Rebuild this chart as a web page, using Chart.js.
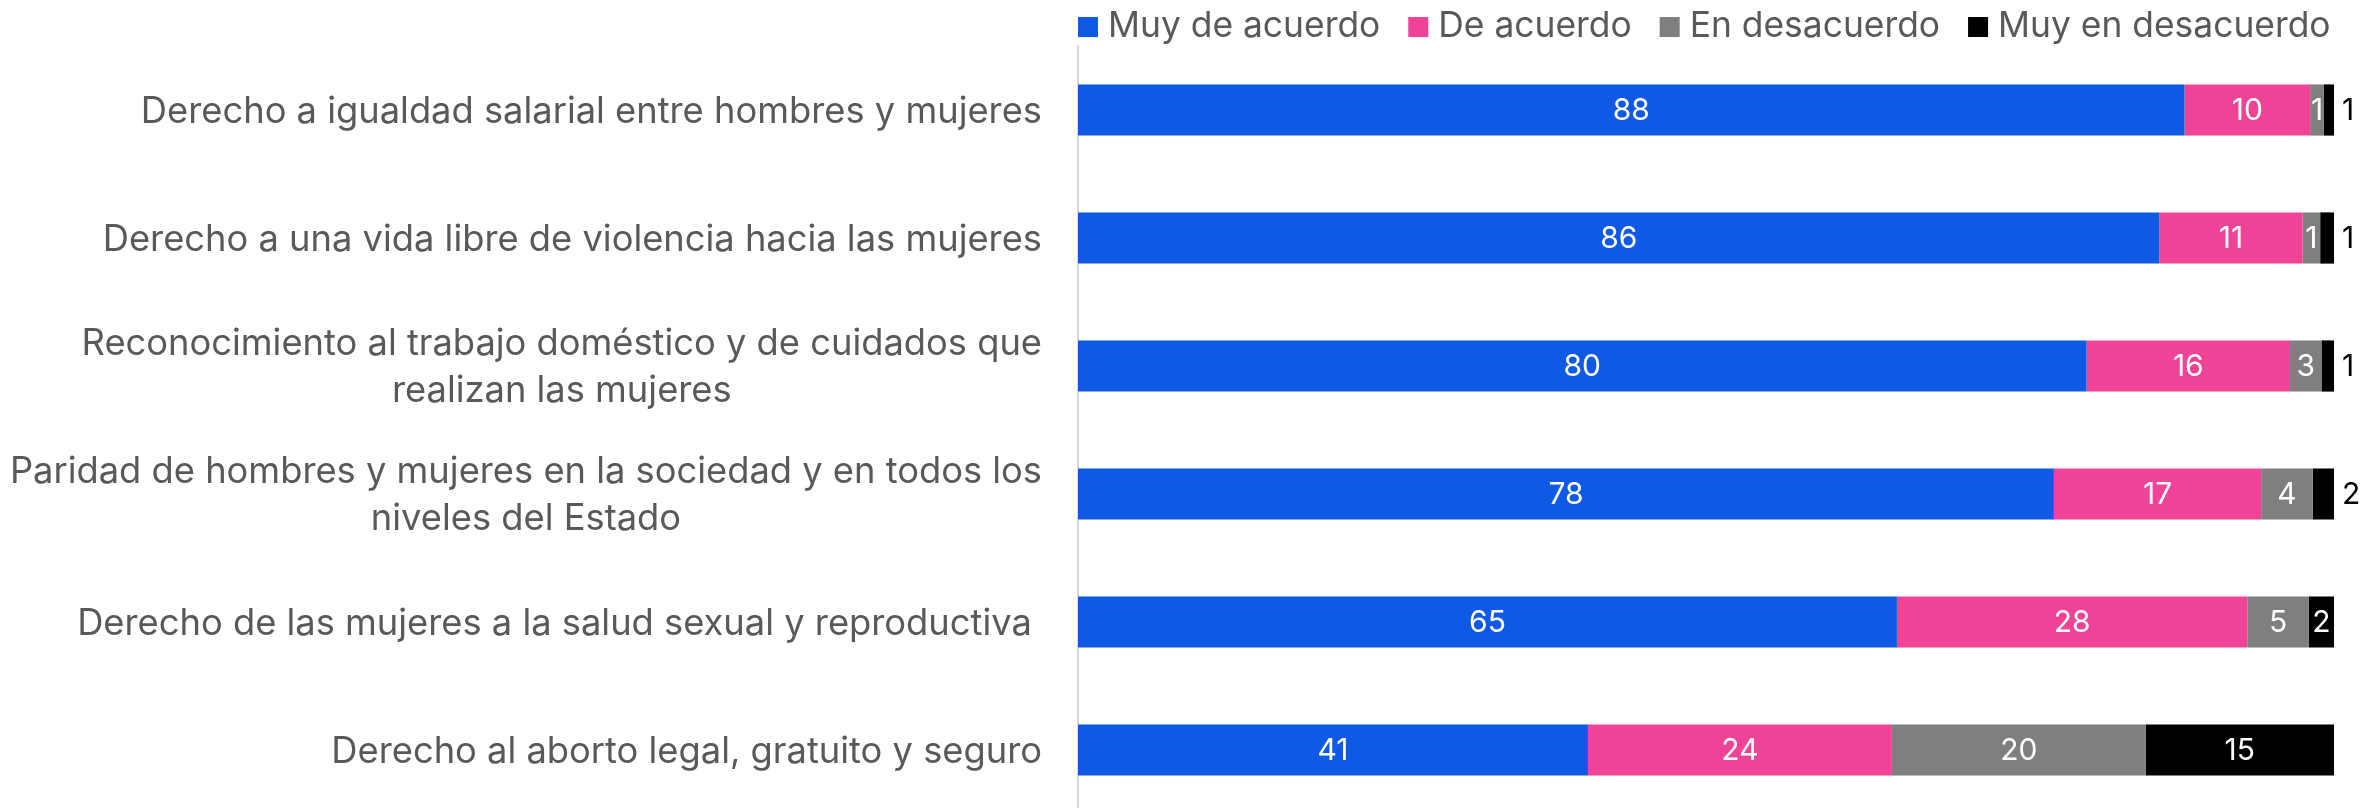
<!DOCTYPE html>
<html>
<head>
<meta charset="utf-8">
<script src="https://cdn.jsdelivr.net/npm/chart.js@4/dist/chart.umd.min.js"></script>
<style>
  html, body { margin: 0; padding: 0; background: #ffffff; overflow: hidden; }
  #wrap { width: 2361px; height: 814px; }
</style>
</head>
<body>
<div id="wrap"><canvas id="c" width="2361" height="814"></canvas></div>
<script>
// ---- Data ----
const categories = [
  "Derecho a igualdad salarial entre hombres y mujeres",
  "Derecho a una vida libre de violencia hacia las mujeres",
  ["Reconocimiento al trabajo doméstico y de cuidados que", "realizan las mujeres"],
  ["Paridad de hombres y mujeres en la sociedad y en todos los", "niveles del Estado"],
  "Derecho de las mujeres a la salud sexual y reproductiva ",
  "Derecho al aborto legal, gratuito y seguro"
];
const seriesNames = ["Muy de acuerdo", "De acuerdo", "En desacuerdo", "Muy en desacuerdo"];
const muyDeAcuerdo    = [88.1, 86.1, 80.3, 77.7, 65.2, 40.6];
const deAcuerdo       = [10.0, 11.4, 16.2, 16.5, 27.9, 24.2];
const enDesacuerdo    = [1.1, 1.4, 2.5, 4.1, 4.9, 20.2];
const muyEnDesacuerdo = [0.8, 1.1, 1.0, 1.7, 2.0, 15.0];

// ---- Styles ----
const COLORS = ["#0E5AE4", "#EE4396", "#7F7F7F", "#000000"];
const FONT = "Inter";
const TEXT_GREY = "#595959";

const seriesValues = [muyDeAcuerdo, deAcuerdo, enDesacuerdo, muyEnDesacuerdo];

const valueLabels = {
  id: "valueLabels",
  afterDatasetsDraw(chart) {
    const ctx = chart.ctx;
    ctx.save();
    ctx.font = "400 30px " + FONT;
    ctx.textBaseline = "middle";
    const last = chart.data.datasets.length - 1;
    chart.data.datasets.forEach((ds, di) => {
      const meta = chart.getDatasetMeta(di);
      meta.data.forEach((bar, i) => {
        const v = ds.data[i];
        const txt = String(Math.round(v));
        const left = Math.min(bar.x, bar.base);
        const right = Math.max(bar.x, bar.base);
        const w = right - left;
        if (di === last && w < 23) {
          ctx.fillStyle = "#000000";
          ctx.textAlign = "left";
          ctx.fillText(txt, right + 8, bar.y + 1);
        } else {
          ctx.fillStyle = "#ffffff";
          ctx.textAlign = "center";
          ctx.fillText(txt, (left + right) / 2, bar.y + 1);
        }
      });
    });
    ctx.restore();
  }
};

const categoryLabels = {
  id: "categoryLabels",
  afterDraw(chart) {
    const ctx = chart.ctx;
    const ys = chart.scales.y;
    const rightEdge = chart.chartArea.left - 36;
    ctx.save();
    ctx.font = "400 36.3px " + FONT;
    ctx.fillStyle = TEXT_GREY;
    ctx.textBaseline = "alphabetic";
    const lineH = 47;
    chart.data.labels.forEach((lab, i) => {
      const lines = Array.isArray(lab) ? lab : [lab];
      const widths = lines.map(l => ctx.measureText(l).width);
      const W = Math.max(...widths);
      const cx = rightEdge - W / 2;
      const cy = ys.getPixelForValue(i);
      const n = lines.length;
      lines.forEach((l, k) => {
        const lineCenter = cy + (k - (n - 1) / 2) * lineH;
        const lw = widths[k];
        const trimmed = l.replace(/\s+$/, "");
        ctx.textAlign = "left";
        ctx.fillText(trimmed, cx - lw / 2, lineCenter + 12.5);
      });
    });
    ctx.restore();
  }
};

const legendPlugin = {
  id: "customLegend",
  afterDraw(chart) {
    const ctx = chart.ctx;
    ctx.save();
    ctx.font = "400 35.4px " + FONT;
    ctx.textBaseline = "alphabetic";
    ctx.textAlign = "left";
    let x = chart.chartArea.left;
    const boxTop = 17, box = 20, baseline = 37;
    chart.data.datasets.forEach((ds) => {
      ctx.fillStyle = ds.backgroundColor;
      ctx.fillRect(x, boxTop, box, box);
      x += box + 10;
      ctx.fillStyle = TEXT_GREY;
      ctx.fillText(ds.label, x, baseline);
      x += ctx.measureText(ds.label).width + 28;
    });
    ctx.restore();
  }
};

const chart = new Chart(document.getElementById("c"), {
  type: "bar",
  data: {
    labels: categories,
    datasets: seriesValues.map((vals, k) => ({
      label: seriesNames[k],
      data: vals,
      backgroundColor: COLORS[k],
      borderWidth: 0,
      categoryPercentage: 1.0,
      barPercentage: 0.4
    }))
  },
  options: {
    indexAxis: "y",
    responsive: false,
    animation: false,
    devicePixelRatio: 1,
    layout: { padding: { top: 46, right: 27, bottom: 0, left: 0 } },
    plugins: {
      legend: { display: false },
      tooltip: { enabled: false }
    },
    scales: {
      x: { stacked: true, min: 0, max: 100, display: false },
      y: {
        stacked: true,
        display: true,
        grid: { display: false },
        ticks: { display: false },
        border: { display: true, color: "#D9D9D9", width: 2 },
        afterFit(scale) { scale.width = 1078; }
      }
    }
  },
  plugins: [valueLabels, categoryLabels, legendPlugin]
});
</script>
</body>
</html>
